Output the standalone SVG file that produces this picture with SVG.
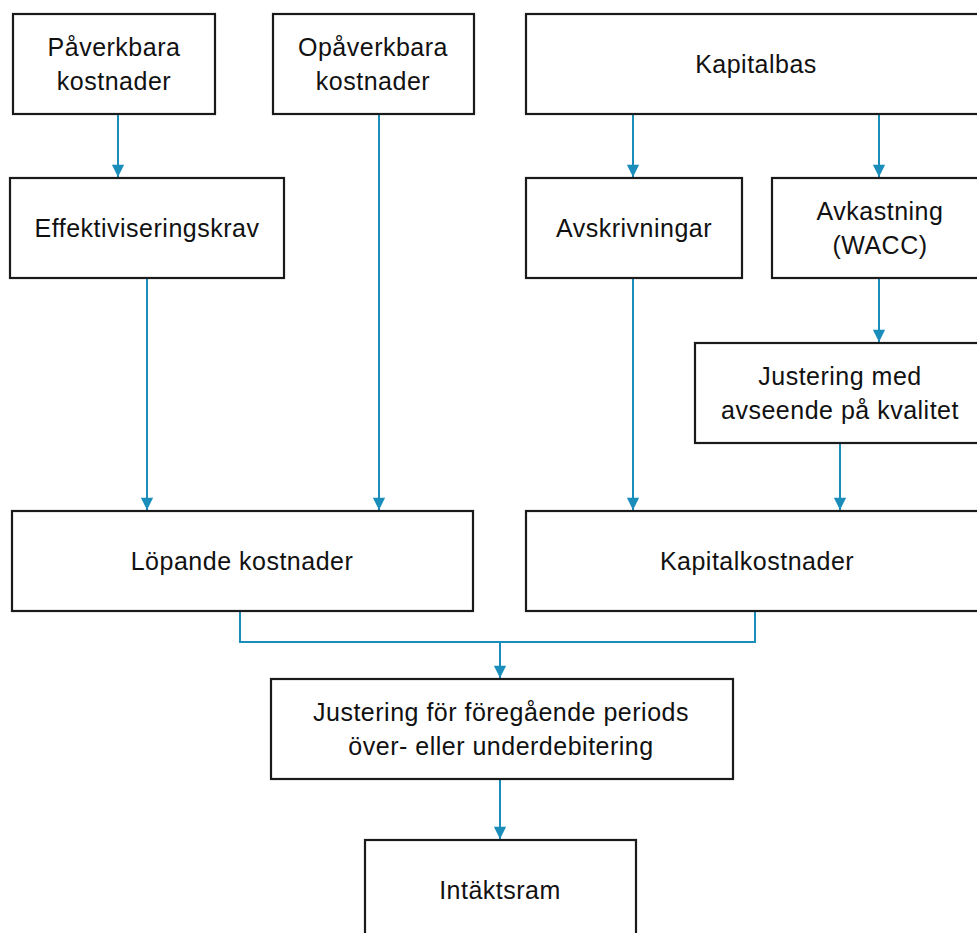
<svg xmlns="http://www.w3.org/2000/svg" width="977" height="933" viewBox="0 0 977 933">
<style>
.box{fill:#fff;stroke:#1a1a1a;stroke-width:2.2}
.t{font-family:"Liberation Sans",Arial,sans-serif;font-size:25px;letter-spacing:0.5px;fill:#111;text-anchor:middle}
.c{fill:none;stroke:#1b8dbb;stroke-width:2}
</style>
<defs>
<marker id="ah" markerUnits="userSpaceOnUse" markerWidth="14" markerHeight="16" refX="7" refY="15" orient="auto-start-reverse" viewBox="0 0 14 16">
<path d="M0,1 L14,1 L7,15 z" fill="#1b8dbb" transform="rotate(0)"/>
</marker>
<marker id="a" markerUnits="userSpaceOnUse" markerWidth="14" markerHeight="16" refX="15" refY="7" orient="auto" viewBox="0 0 16 14">
<path d="M1,0 L15,7 L1,14 z" fill="#1b8dbb"/>
</marker>
</defs>
<rect width="977" height="933" fill="#fff"/>
<g id="connectors">
<path class="c" d="M118,114 V177" marker-end="url(#a)"/>
<path class="c" d="M379,114 V510" marker-end="url(#a)"/>
<path class="c" d="M147,278 V510" marker-end="url(#a)"/>
<path class="c" d="M633,114 V177" marker-end="url(#a)"/>
<path class="c" d="M879,114 V177" marker-end="url(#a)"/>
<path class="c" d="M879,278 V342" marker-end="url(#a)"/>
<path class="c" d="M633,278 V510" marker-end="url(#a)"/>
<path class="c" d="M840,443 V510" marker-end="url(#a)"/>
<path class="c" d="M240,611 V642 H755 V611"/>
<path class="c" d="M500,642 V678" marker-end="url(#a)"/>
<path class="c" d="M500,779 V839" marker-end="url(#a)"/>
</g>
<g id="n-paverkbara"><rect class="box" x="13" y="14" width="202" height="100"/><text class="t" x="114" y="56">Påverkbara</text><text class="t" x="114" y="90">kostnader</text></g>
<g id="n-opaverkbara"><rect class="box" x="273" y="14" width="201" height="100"/><text class="t" x="373" y="56">Opåverkbara</text><text class="t" x="373" y="90">kostnader</text></g>
<g id="n-kapitalbas"><rect class="box" x="526" y="14" width="460" height="100"/><text class="t" x="756" y="73">Kapitalbas</text></g>
<g id="n-effektiv"><rect class="box" x="10" y="178" width="274" height="100"/><text class="t" x="147" y="237">Effektiviseringskrav</text></g>
<g id="n-avskrivningar"><rect class="box" x="526" y="178" width="216" height="100"/><text class="t" x="634" y="237">Avskrivningar</text></g>
<g id="n-avkastning"><rect class="box" x="772" y="178" width="214" height="100"/><text class="t" x="880" y="220">Avkastning</text><text class="t" x="880" y="254">(WACC)</text></g>
<g id="n-justering-kvalitet"><rect class="box" x="695" y="343" width="291" height="100"/><text class="t" x="840" y="385">Justering med</text><text class="t" x="840" y="419">avseende på kvalitet</text></g>
<g id="n-lopande"><rect class="box" x="12" y="511" width="461" height="100"/><text class="t" x="242" y="570">Löpande kostnader</text></g>
<g id="n-kapitalkostnader"><rect class="box" x="526" y="511" width="460" height="100"/><text class="t" x="757" y="570">Kapitalkostnader</text></g>
<g id="n-justering-period"><rect class="box" x="271" y="679" width="462" height="100"/><text class="t" x="501" y="721">Justering för föregående periods</text><text class="t" x="501" y="755">över- eller underdebitering</text></g>
<g id="n-intaktsram"><rect class="box" x="365" y="840" width="271" height="110"/><text class="t" x="500" y="899">Intäktsram</text></g>
</svg>
